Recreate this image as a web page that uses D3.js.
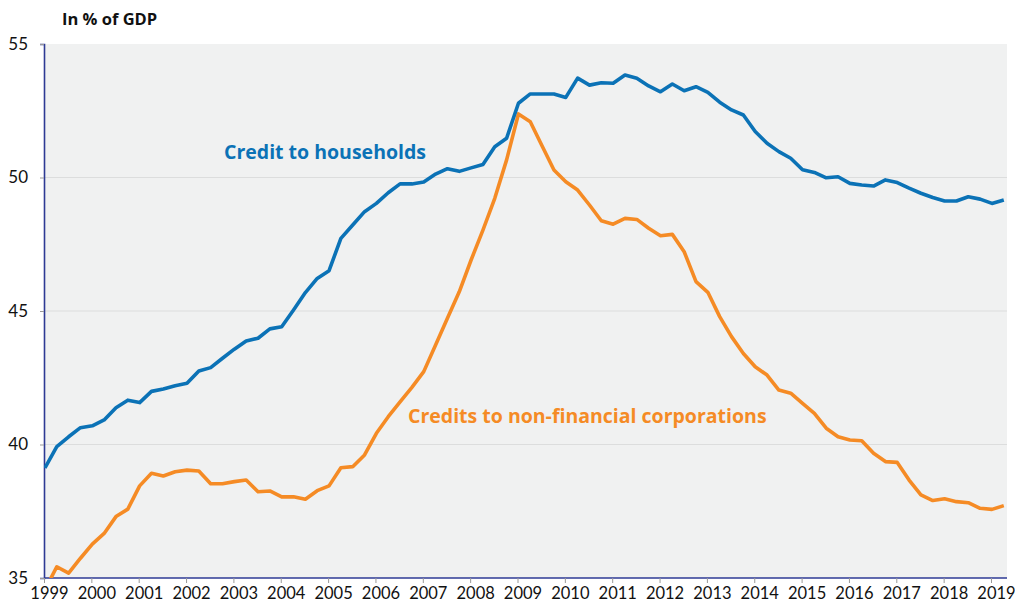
<!DOCTYPE html>
<html lang="en">
<head>
<meta charset="UTF-8">
<title>Credit in % of GDP</title>
<style>
  * { margin: 0; padding: 0 }
  body { background: #fff; }
  svg { display: block; font-family: Lato, "Open Sans", sans-serif; }
</style>
</head>
<body>
<div id="main"></div>
<script src="https://d3js.org/d3.v7.min.js"></script>
<script>
// quarterly data, 1999Q1 .. 2019Q2
const startYear = 1999;
const households = [
  39.12, 39.92, 40.29, 40.63, 40.70, 40.92, 41.38, 41.66, 41.57, 41.99,
  42.08, 42.20, 42.29, 42.75, 42.88, 43.23, 43.57, 43.88, 43.98, 44.33,
  44.41, 45.04, 45.69, 46.22, 46.51, 47.72, 48.22, 48.72, 49.03, 49.43,
  49.76, 49.76, 49.83, 50.13, 50.33, 50.23, 50.36, 50.49, 51.15, 51.47,
  52.78, 53.13, 53.13, 53.13, 53.00, 53.72, 53.46, 53.55, 53.53, 53.84,
  53.72, 53.43, 53.21, 53.50, 53.25, 53.40, 53.19, 52.82, 52.53, 52.34,
  51.72, 51.28, 50.97, 50.72, 50.29, 50.19, 49.99, 50.03, 49.78, 49.72,
  49.68, 49.91, 49.81, 49.60, 49.41, 49.25, 49.12, 49.12, 49.28, 49.19,
  49.03, 49.16
];
const corporations = [
  34.56, 35.42, 35.18, 35.74, 36.27, 36.67, 37.30, 37.58, 38.45, 38.92,
  38.82, 38.98, 39.04, 39.01, 38.53, 38.53, 38.61, 38.67, 38.23, 38.26,
  38.04, 38.04, 37.95, 38.27, 38.45, 39.13, 39.17, 39.61, 40.42, 41.04,
  41.60, 42.14, 42.73, 43.73, 44.73, 45.72, 46.91, 48.03, 49.22, 50.66,
  52.38, 52.09, 51.18, 50.28, 49.84, 49.53, 48.97, 48.38, 48.25, 48.47,
  48.43, 48.10, 47.82, 47.87, 47.22, 46.10, 45.70, 44.79, 44.04, 43.41,
  42.91, 42.60, 42.04, 41.92, 41.54, 41.17, 40.61, 40.29, 40.17, 40.14,
  39.67, 39.36, 39.33, 38.67, 38.11, 37.90, 37.97, 37.86, 37.82, 37.61,
  37.57, 37.71
];
const yearTicks = d3.range(1999, 2020);
const valueTicks = [35, 40, 45, 50, 55];
const seriesNames = ['Credit to households', 'Credits to non-financial corporations'];

const width = 1015, height = 606;
const margin = {top: 44, right: 8, bottom: 28, left: 44};

const svg = d3.select('#main').append('svg')
  .attr('width', width)
  .attr('height', height);

// x: 1999 sits on the y axis, 2019 near the right edge
const x = d3.scaleLinear().domain([1999, 2019]).range([44, 991]);
const y = d3.scaleLinear().domain([35, 55]).range([height - margin.bottom, margin.top]);
const x0 = margin.left, x1 = width - margin.right;

svg.append('defs').append('clipPath').attr('id', 'plot-clip')
  .append('rect')
  .attr('x', x0).attr('y', y(55))
  .attr('width', x1 - x0).attr('height', y(35) - y(55));

// plot background
svg.append('rect')
  .attr('x', x0).attr('y', y(55))
  .attr('width', x1 - x0).attr('height', y(35) - y(55))
  .attr('fill', '#f0f1f1');

// grid lines
svg.selectAll('line.grid')
  .data(valueTicks.filter(v => v > 35 && v < 55))
  .enter().append('line')
  .attr('class', 'grid')
  .attr('x1', x0).attr('x2', x1)
  .attr('y1', d => y(d)).attr('y2', d => y(d))
  .attr('stroke', '#dcdddd').attr('stroke-width', 1.2);

// y axis
const yAxis = svg.append('g')
  .attr('transform', `translate(${x0},0)`)
  .call(d3.axisLeft(y).tickValues(valueTicks).tickSize(4).tickPadding(12));
yAxis.select('.domain').attr('stroke', '#2e3a94').attr('stroke-width', 1.6);
yAxis.selectAll('.tick line').attr('stroke', '#999');
yAxis.selectAll('.tick text')
  .attr('fill', '#111').attr('font-size', 17).attr('font-family', 'Lato, sans-serif');

// x axis
const xAxis = svg.append('g')
  .attr('transform', `translate(0,${y(35)})`)
  .call(d3.axisBottom(x).tickValues(yearTicks).tickFormat(d3.format('d')).tickSize(5).tickPadding(4));
xAxis.select('.domain').attr('d', `M${x0},0H${x1}`).attr('stroke', '#2e3a94').attr('stroke-width', 1.6);
xAxis.selectAll('.tick line').attr('stroke', '#999');
xAxis.selectAll('.tick text')
  .attr('fill', '#111').attr('font-size', 16.5).attr('font-family', 'Lato, sans-serif')
  .attr('dx', 5);

// lines
const line = d3.line()
  .x((d, i) => x(startYear + 0.02 + i / 4))
  .y(d => y(d));

const lines = svg.append('g').attr('clip-path', 'url(#plot-clip)');
lines.append('path')
  .datum(corporations)
  .attr('fill', 'none')
  .attr('stroke', '#f58b25')
  .attr('stroke-width', 3.6)
  .attr('stroke-linejoin', 'round')
  .attr('d', line);
lines.append('path')
  .datum(households)
  .attr('fill', 'none')
  .attr('stroke', '#0b72b6')
  .attr('stroke-width', 3.6)
  .attr('stroke-linejoin', 'round')
  .attr('d', line);

// series labels
svg.append('text')
  .attr('x', 224).attr('y', 159)
  .attr('fill', '#0b72b6').attr('font-weight', 700).attr('font-size', 19.5)
  .attr('font-family', '"Open Sans", sans-serif')
  .text(seriesNames[0]);
svg.append('text')
  .attr('x', 408).attr('y', 423)
  .attr('fill', '#f58b25').attr('font-weight', 700).attr('font-size', 19.5)
  .attr('font-family', '"Open Sans", sans-serif')
  .text(seriesNames[1]);

// unit
svg.append('text')
  .attr('x', 62).attr('y', 25)
  .attr('fill', '#111').attr('font-weight', 700).attr('font-size', 16.5)
  .attr('font-family', '"Open Sans", sans-serif')
  .text('In % of GDP');
</script>
</body>
</html>
